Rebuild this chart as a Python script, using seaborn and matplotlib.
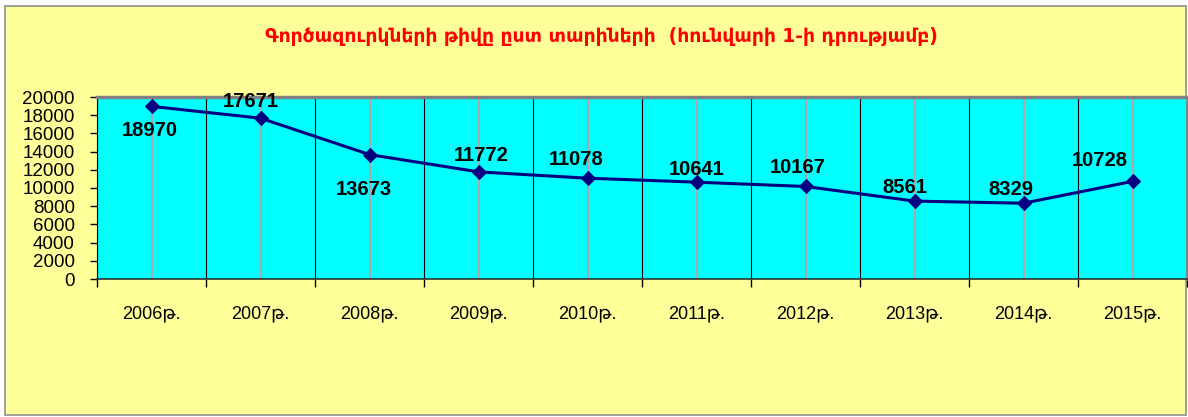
import numpy as np
import pandas as pd
import matplotlib
matplotlib.use('Agg')
import matplotlib.pyplot as plt
import seaborn as sns
from matplotlib.patches import Rectangle
from matplotlib.ticker import FixedLocator, NullFormatter

# data
years = ['2006թ.', '2007թ.', '2008թ.', '2009թ.', '2010թ.',
         '2011թ.', '2012թ.', '2013թ.', '2014թ.', '2015թ.']
unemployed = [18970, 17671, 13673, 11772, 11078, 10641, 10167, 8561, 8329, 10728]
yticks = list(range(0, 20001, 2000))
title = 'Գործազուրկների թիվը ըստ տարիների  (հունվարի 1-ի դրությամբ)'

# label offsets in pixels (dx, dy) relative to each marker
label_offsets = [(-2, -24), (-10, 17), (-6, -35), (3, 16), (-11, 19),
                 (0, 13), (-8, 19), (-10, 14), (-13, 14), (-33, 21)]

fonts = ['Liberation Sans', 'DejaVu Sans']
plt.rcParams['font.family'] = fonts

df = pd.DataFrame({'pos': np.arange(len(years)), 'year': years, 'value': unemployed})

fig = plt.figure(figsize=(11.88, 4.17), dpi=100, facecolor='white')
# yellow chart area behind everything
fig.add_artist(Rectangle((5 / 1188, 2 / 417), 1181 / 1188, 409 / 417,
                         transform=fig.transFigure, facecolor='#FFFF99',
                         edgecolor='#909090', linewidth=1.2, zorder=-10))

ax = fig.add_axes([97 / 1188, 138 / 417, 1090 / 1188, 182 / 417])
ax.set_zorder(1)
ax.set_facecolor('#00FFFF')

sns.lineplot(data=df, x='pos', y='value', ax=ax, color='#000080', linewidth=2.2,
             marker='D', markersize=7, markeredgecolor='#000080', zorder=5)

for (_, row), (dx, dy) in zip(df.iterrows(), label_offsets):
    ax.annotate(f"{row['value']}", (row['pos'], row['value']), xytext=(dx, dy),
                textcoords='offset pixels', ha='center', va='center',
                fontsize=14.5, fontweight='bold', color='black', zorder=6)

ax.set_xlim(-0.5, len(years) - 0.5)
ax.set_ylim(0, 20000)
ax.set_yticks(yticks)
ax.tick_params(axis='y', labelsize=13.5, direction='out', length=5, width=1, pad=11)

ax.xaxis.set_major_locator(FixedLocator(np.arange(len(years) + 1) - 0.5))
ax.xaxis.set_major_formatter(NullFormatter())
ax.xaxis.set_minor_locator(FixedLocator(df['pos']))
ax.set_xticklabels(years, minor=True)
ax.tick_params(axis='x', which='major', direction='out', length=6, width=1)
ax.tick_params(axis='x', which='minor', length=0, labelsize=13, pad=19)

ax.grid(which='major', axis='x', color='black', linewidth=0.8)
ax.grid(which='minor', axis='x', color='#A8A8A8', linewidth=1.5)
ax.grid(which='major', axis='y', visible=False)
ax.set_axisbelow(True)

ax.set_xlabel('')
ax.set_ylabel('')
ax.spines['left'].set_color('black')
ax.spines['bottom'].set_color('#303030')
ax.spines['bottom'].set_linewidth(1.2)
ax.spines['top'].set_color('#808080')
ax.spines['top'].set_linewidth(2.5)
ax.spines['right'].set_color('#808080')
ax.spines['right'].set_linewidth(2)

fig.text(601 / 1188, 1 - 36 / 417, title, ha='center', va='center',
         fontsize=13.5, fontweight='bold', color='#FF0000', family=['DejaVu Sans'])

fig.savefig('out.png', dpi=100, facecolor='white')
